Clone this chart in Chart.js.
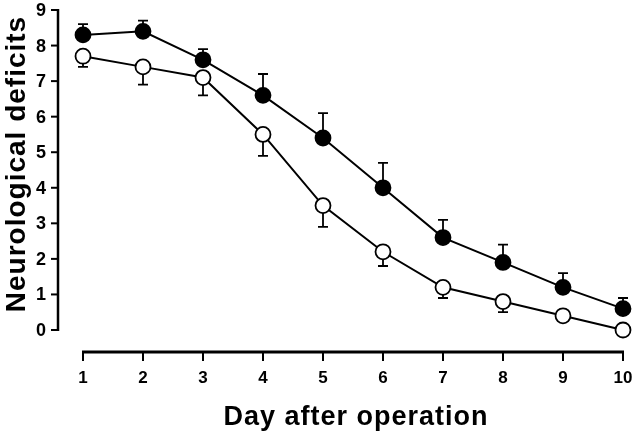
<!DOCTYPE html>
<html>
<head>
<meta charset="utf-8">
<script src="https://cdn.jsdelivr.net/npm/chart.js@4"></script>
<style>
  html, body { margin: 0; padding: 0; background: #fff; }
  #wrap { width: 640px; height: 440px; position: relative; }
</style>
</head>
<body>
<div id="wrap"><canvas id="chart" width="640" height="440"></canvas></div>
<script>
/* ---------- Data ---------- */
const days = [1, 2, 3, 4, 5, 6, 7, 8, 9, 10];
const yTicks = [0, 1, 2, 3, 4, 5, 6, 7, 8, 9];

// filled circles, error bars drawn upward
const filledMean = [8.3, 8.4, 7.6, 6.6, 5.4, 4.0, 2.6, 1.9, 1.2, 0.6];
const filledErr  = [0.3, 0.3, 0.3, 0.6, 0.7, 0.7, 0.5, 0.5, 0.4, 0.3];

// open circles, error bars drawn downward
const openMean = [7.7, 7.4, 7.1, 5.5, 3.5, 2.2, 1.2, 0.8, 0.4, 0.0];
const openErr  = [0.3, 0.5, 0.5, 0.6, 0.6, 0.4, 0.3, 0.3, 0, 0];

const xTitle = "Day after operation";
const yTitle = "Neurological deficits";

const FONT = "'Liberation Sans', Arial, sans-serif";

/* ---------- Axes + error bars plugin ---------- */
const axesPlugin = {
  id: "detachedAxes",
  beforeDatasetsDraw(chart) {
    const ctx = chart.ctx;
    const xs = chart.scales.x;
    const ys = chart.scales.y;
    ctx.save();
    ctx.strokeStyle = "#000";
    ctx.lineWidth = 1.8;
    // error bars
    const bars = [
      { mean: filledMean, err: filledErr, dir: 1 },
      { mean: openMean, err: openErr, dir: -1 },
    ];
    bars.forEach((b) => {
      days.forEach((d, i) => {
        if (!b.err[i]) return;
        const px = xs.getPixelForValue(d);
        const y0 = ys.getPixelForValue(b.mean[i]);
        const y1 = ys.getPixelForValue(b.mean[i] + b.dir * b.err[i]);
        ctx.beginPath();
        ctx.moveTo(px, y0);
        ctx.lineTo(px, y1);
        ctx.moveTo(px - 5, y1);
        ctx.lineTo(px + 5, y1);
        ctx.stroke();
      });
    });
    ctx.restore();
  },
  afterDraw(chart) {
    const ctx = chart.ctx;
    const xs = chart.scales.x;
    const ys = chart.scales.y;
    ctx.save();
    ctx.strokeStyle = "#000";
    ctx.fillStyle = "#000";
    ctx.lineCap = "butt";

    // y axis (detached to the left)
    const yAxisX = xs.getPixelForValue(days[0]) - 25;
    const yTop = ys.getPixelForValue(yTicks[yTicks.length - 1]);
    const yBot = ys.getPixelForValue(yTicks[0]);
    ctx.lineWidth = 2.5;
    ctx.beginPath();
    ctx.moveTo(yAxisX, yTop - 1);
    ctx.lineTo(yAxisX, yBot + 1);
    ctx.stroke();
    ctx.lineWidth = 2;
    ctx.font = "bold 18px " + FONT;
    ctx.textAlign = "right";
    ctx.textBaseline = "middle";
    yTicks.forEach((t) => {
      const py = ys.getPixelForValue(t);
      ctx.beginPath();
      ctx.moveTo(yAxisX - 7, py);
      ctx.lineTo(yAxisX, py);
      ctx.stroke();
      ctx.fillText(String(t), yAxisX - 12, py + 1);
    });

    // x axis (detached below)
    const xAxisY = yBot + 22;
    const xL = xs.getPixelForValue(days[0]);
    const xR = xs.getPixelForValue(days[days.length - 1]);
    ctx.lineWidth = 3;
    ctx.beginPath();
    ctx.moveTo(xL - 1, xAxisY);
    ctx.lineTo(xR + 1, xAxisY);
    ctx.stroke();
    ctx.lineWidth = 2;
    ctx.font = "bold 17px " + FONT;
    ctx.textAlign = "center";
    ctx.textBaseline = "middle";
    days.forEach((d) => {
      const px = xs.getPixelForValue(d);
      ctx.beginPath();
      ctx.moveTo(px, xAxisY);
      ctx.lineTo(px, xAxisY + 9);
      ctx.stroke();
      ctx.fillText(String(d), px, xAxisY + 26);
    });

    // titles
    ctx.font = "bold 27px " + FONT;
    ctx.letterSpacing = "1px";
    ctx.fillText(xTitle, (xL + xR) / 2 + 3, xAxisY + 66);
    ctx.font = "bold 28px " + FONT;
    ctx.save();
    ctx.translate(17, 164);
    ctx.rotate(-Math.PI / 2);
    ctx.fillText(yTitle, 0, 0);
    ctx.restore();
    ctx.letterSpacing = "0px";

    ctx.restore();
  },
};

/* ---------- Chart ---------- */
const lineStyle = (fill) => ({
  borderColor: "#000",
  borderWidth: 2,
  pointRadius: 7.5,
  pointHoverRadius: 7.5,
  pointBorderWidth: 1.8,
  pointBorderColor: "#000",
  pointBackgroundColor: fill,
  tension: 0,
  clip: false,
});

new Chart(document.getElementById("chart"), {
  type: "line",
  data: {
    datasets: [
      {
        label: "Filled",
        data: days.map((d, i) => ({ x: d, y: filledMean[i] })),
        ...lineStyle("#000"),
      },
      {
        label: "Open",
        data: days.map((d, i) => ({ x: d, y: openMean[i] })),
        ...lineStyle("#fff"),
        order: -1,
      },
    ],
  },
  plugins: [axesPlugin],
  options: {
    responsive: false,
    animation: false,
    events: [],
    layout: { padding: { left: 83, right: 17, top: 10, bottom: 110 } },
    plugins: { legend: { display: false }, tooltip: { enabled: false } },
    scales: {
      x: { type: "linear", min: 1, max: 10, display: false },
      y: { type: "linear", min: 0, max: 9, display: false },
    },
  },
});
</script>
</body>
</html>
